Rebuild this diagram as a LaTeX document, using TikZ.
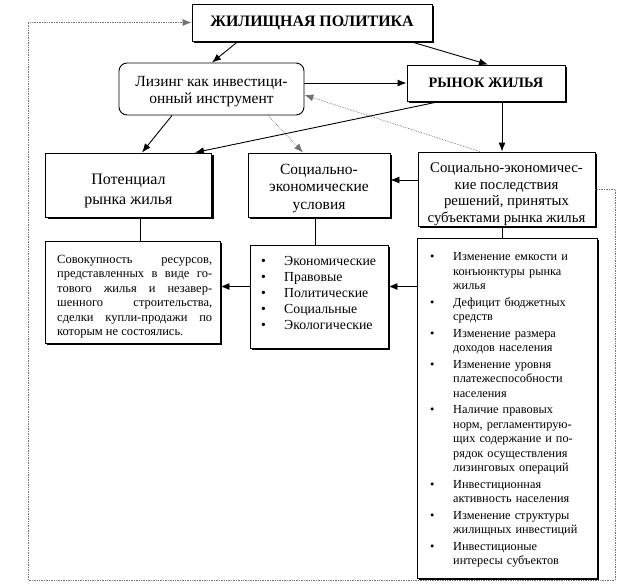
\documentclass[tikz,border=0pt]{standalone}
\usepackage{fontspec}
\setmainfont{Liberation Serif}
\usetikzlibrary{arrows.meta,shadows,calc}
\newenvironment{blist}[2]{\begin{list}{\textbullet\hfill}{\setlength\leftmargin{#1}\setlength\labelwidth{#1}\setlength\labelsep{0pt}\setlength\itemsep{#2}\setlength\parsep{0pt}\setlength\topsep{0pt}\setlength\partopsep{0pt}\setlength\itemindent{0pt}}}{\end{list}}
\newcommand{\lift}[1]{\rule{0pt}{#1}}
\tikzset{
  box/.style={draw, line width=0.9pt, fill=white, inner sep=0pt, align=center,
    drop shadow={shadow xshift=2pt, shadow yshift=-2pt, fill=black, opacity=1}},
  lbox/.style={draw, line width=0.9pt, fill=white, inner sep=0pt,
    drop shadow={shadow xshift=1.5pt, shadow yshift=-1.5pt, fill=black, opacity=1}},
  rbox/.style={draw, line width=0.9pt, fill=white, inner sep=0pt, align=center, rounded corners=8pt},
  txt/.style={inner sep=0pt, anchor=north west},
  arr/.style={line width=0.9pt, -{Latex[length=9pt,width=7pt]}},
  conn/.style={line width=0.9pt},
  darr/.style={line width=0.7pt, densely dotted, black!55, -{Latex[length=9pt,width=7pt]}, draw=black!55}
}
\begin{document}
\begin{tikzpicture}[x=1pt,y=-1pt]
\useasboundingbox (0,0) rectangle (631,586);
% top boxes
\node[box, minimum width=240pt, minimum height=37pt, font=\fontsize{15.9}{18}\selectfont\bfseries] (main) at (312,22.5) {ЖИЛИЩНАЯ ПОЛИТИКА};
\node[rbox, minimum width=185pt, minimum height=52pt, font=\fontsize{15.5}{17}\selectfont] (lease) at (211.5,89) {\lift{15pt}Лизинг как инвестици-\\онный инструмент};
\node[box, minimum width=158pt, minimum height=36pt, font=\fontsize{14.4}{17}\selectfont\bfseries] (market) at (486,83) {РЫНОК ЖИЛЬЯ};
% middle row
\node[box, minimum width=166pt, minimum height=64pt, font=\fontsize{16}{20}\selectfont] (pot) at (128.5,185) {\lift{22pt}Потенциал\\рынка жилья};
\node[box, minimum width=142pt, minimum height=64pt, font=\fontsize{15.5}{17.5}\selectfont] (cond) at (319,185) {\lift{16.5pt}Социально-\\экономические\\условия};
\node[box, minimum width=177pt, minimum height=74pt, font=\fontsize{14.8}{16.7}\selectfont] (cons) at (506.5,189) {\lift{20pt}Социально-экономичес-\\кие последствия\\решений, принятых\\субъектами рынка жилья};
% lower boxes
\node[lbox, minimum width=175pt, minimum height=102pt] (agg) at (132.5,292) {};
\node[lbox, minimum width=138pt, minimum height=103pt] (list) at (319,296.5) {};
\node[lbox, minimum width=180pt, minimum height=340pt] (rlist) at (507,408) {};
% texts of lower boxes
\node[txt, text width=155pt, align=justify, font=\fontsize{12.5}{14.4}\selectfont] (aggtext) at (57,255) {Совокупность ресурсов,\linebreak представленных в виде го-\linebreak тового жилья и незавер-\linebreak шенного строительства,\linebreak сделки купли-продажи по\linebreak которым не состоялись.};
\node[txt, text width=130pt, font=\fontsize{13.8}{16}\selectfont] (listtext) at (261,249) {\begin{blist}{23pt}{0pt}
\item Экономические
\item Правовые
\item Политические
\item Социальные
\item Экологические
\end{blist}};
\node[txt, text width=150pt, font=\fontsize{12.3}{14.5}\selectfont] (rtext) at (430,246) {\begin{blist}{23pt}{2pt}
\item Изменение емкости и\\ конъюнктуры рынка\\ жилья
\item Дефицит бюджетных\\ средств
\item Изменение размера\\ доходов населения
\item Изменение уровня\\ платежеспособности\\ населения
\item Наличие правовых\\ норм, регламентирую-\\ щих содержание и по-\\ рядок осуществления\\ лизинговых операций
\item Инвестиционная\\ активность населения
\item Изменение структуры\\ жилищных инвестиций
\item Инвестиционые\\ интересы субъектов
\end{blist}};
% connectors
\coordinate (lp1) at (615,580);
\coordinate (lp2) at (28,580);
\draw[arr] ([xshift=-74pt]main.south) -- ([xshift=0.5pt]lease.north);
\draw[arr] ([xshift=98pt]main.south) -- ([xshift=2pt]market.north);
\draw[arr] (lease.east |- market.west) -- (market.west);
\draw[darr] ([xshift=-26.5pt]cons.north) -- ([yshift=-6pt]lease.east);
\draw[arr] ([xshift=-39.5pt]lease.south) -- ([xshift=13.5pt]pot.north);
\draw[darr] ([xshift=56.5pt]lease.south) -- ([xshift=-16pt]cond.north);
\draw[arr] ([xshift=-46pt]market.south) -- ([xshift=66.5pt]pot.north);
\draw[arr] ([xshift=16pt]market.south) -- ([xshift=16pt]market.south |- cons.north);
\draw[arr] ([yshift=9pt]cons.west) -- ([yshift=9pt]cons.west -| cond.east);
\draw[conn] ([xshift=11.5pt]pot.south) -- ([xshift=11.5pt]pot.south |- agg.north);
\draw[conn] ([xshift=-4pt]cond.south) -- ([xshift=-4pt]cond.south |- list.north);
\draw[conn] ([xshift=-4.5pt]cons.south) -- ([xshift=-4.5pt]cons.south |- rlist.north);
\draw[arr] ([yshift=10pt]list.west) -- ([yshift=10pt]list.west -| agg.east);
\draw[arr] ([yshift=10pt]list.west -| rlist.west) -- ([yshift=10pt]list.east);
\draw[darr] (cons.east) -| (lp1) -- (lp2) |- (main.west);
\end{tikzpicture}
\end{document}
